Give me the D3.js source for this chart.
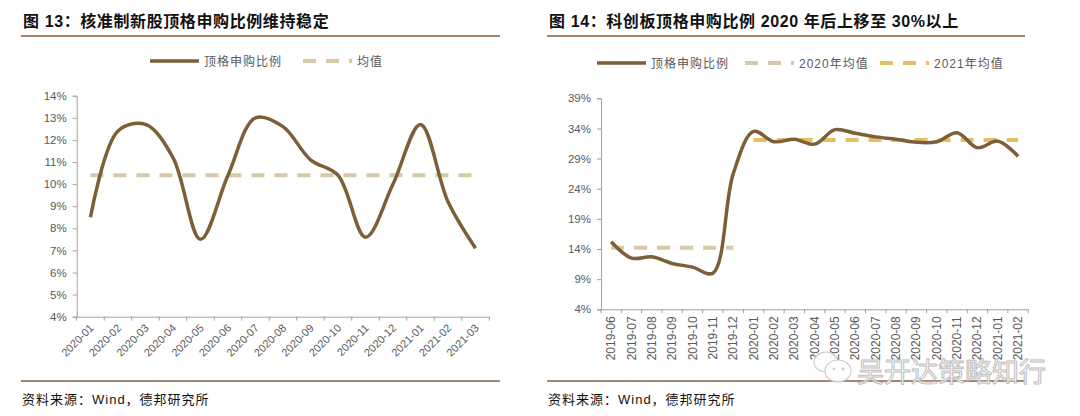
<!DOCTYPE html>
<html><head><meta charset="utf-8">
<script src="https://cdn.jsdelivr.net/npm/d3@7"></script>
<style>body{margin:0;background:#fff}svg{display:block}</style>
</head><body>
<svg id="c" width="1080" height="416"></svg>
<script>
// ---------- data ----------
const leftCategories = ["2020-01","2020-02","2020-03","2020-04","2020-05","2020-06","2020-07","2020-08","2020-09","2020-10","2020-11","2020-12","2021-01","2021-02","2021-03"];
const leftValues = [8.5,12.4,12.7,11.2,7.5,10.4,13.0,12.6,11.1,10.4,7.6,10.0,12.7,9.2,7.1];
const leftMean = 10.4;
const leftTicks = [4,5,6,7,8,9,10,11,12,13,14];

const rightCategories = ["2019-06","2019-07","2019-08","2019-09","2019-10","2019-11","2019-12","2020-01","2020-02","2020-03","2020-04","2020-05","2020-06","2020-07","2020-08","2020-09","2020-10","2020-11","2020-12","2021-01","2021-02"];
const rightValues = [15.2,12.5,12.7,11.6,11.0,10.0,26.5,33.5,31.8,32.2,31.4,33.8,33.2,32.6,32.2,31.7,31.8,33.3,30.8,31.9,29.4];
const mean2020Value = 14.2;
const mean2020Range = ["2019-06","2019-12"];
const mean2021Value = 32.1;
const mean2021Range = ["2020-01","2021-02"];
const rightTicks = [4,9,14,19,24,29,34,39];

const leftTitle = "图 13：核准制新股顶格申购比例维持稳定";
const rightTitle = "图 14：科创板顶格申购比例 2020 年后上移至 30%以上";
const sourceText = "资料来源：Wind，德邦研究所";
const legendMain = "顶格申购比例";
const legendLeftMean = "均值";
const legendMean2020 = "2020年均值";
const legendMean2021 = "2021年均值";
const watermark = "吴开达策略知行";

// ---------- styles ----------
const FONT = "'Liberation Sans', Arial, 'Noto Sans CJK SC', sans-serif";
const CJK = "'Noto Sans CJK SC', 'Liberation Sans', sans-serif";
const LINE = "#7d5f37";
const MEAN_L = "#d7c8a6";
const MEAN_Y = "#e6bf62";
const RULE = "#a88868";
const AXIS = "#a0a0a0";
const TXT = "#595959";

const svg = d3.select("#c");

function header(x0, x1, title) {
  svg.append("text").attr("x", x0 + 2).attr("y", 27)
    .attr("font-family", FONT).attr("font-weight", "bold").attr("font-size", 16)
    .attr("letter-spacing", 0.6)
    .attr("fill", "#111").text(title);
  svg.append("line").attr("x1", x0).attr("x2", x1).attr("y1", 36).attr("y2", 36)
    .attr("stroke", RULE).attr("stroke-width", 2);
  svg.append("line").attr("x1", x0).attr("x2", x1).attr("y1", 381).attr("y2", 381)
    .attr("stroke", RULE).attr("stroke-width", 2);
  svg.append("text").attr("x", x0 + 1).attr("y", 404)
    .attr("font-family", FONT).attr("font-size", 13).attr("letter-spacing", 1)
    .attr("fill", "#111").text(sourceText);
}

function legendItem(x, y, label, color, dashed) {
  svg.append("line").attr("x1", x).attr("x2", x + 49).attr("y1", y).attr("y2", y)
    .attr("stroke", color).attr("stroke-width", dashed ? 4 : 3.5)
    .attr("stroke-dasharray", dashed ? "13,10" : null);
  svg.append("text").attr("x", x + 54).attr("y", y + 4.5)
    .attr("font-family", FONT).attr("font-size", 12).attr("letter-spacing", 1)
    .attr("fill", TXT).text(label);
}

function yAxis(y, xPos, ticks) {
  const g = svg.append("g").attr("transform", `translate(${xPos},0)`)
    .call(d3.axisLeft(y).tickValues(ticks).tickSize(4).tickPadding(6).tickFormat(d => d + "%"));
  g.selectAll("path,line").attr("stroke", AXIS);
  g.selectAll("text").attr("font-family", FONT).attr("font-size", 11.5).attr("fill", TXT);
}

function xAxis(x, yPos, cats, rotate) {
  const g = svg.append("g").attr("transform", `translate(0,${yPos})`)
    .call(d3.axisBottom(x).tickSize(0).tickPadding(0));
  g.select("path.domain").attr("stroke", AXIS);
  g.selectAll(".tick line").remove();
  const bounds = cats.map(c => x(c)).concat([x(cats[cats.length - 1]) + x.step()]);
  g.selectAll("line.b").data(bounds).join("line").attr("class", "b")
    .attr("x1", d => d).attr("x2", d => d).attr("y1", 0).attr("y2", 4).attr("stroke", AXIS);
  const t = g.selectAll(".tick text").attr("font-family", FONT).attr("fill", TXT);
  if (rotate === 45) {
    t.attr("font-size", 11).attr("text-anchor", "end").attr("dy", 0)
      .attr("transform", "translate(4,12) rotate(-45)").attr("y", 0).attr("x", 0);
  } else {
    t.attr("font-size", 12).attr("text-anchor", "end").attr("dy", 0)
      .attr("transform", "translate(4,7) rotate(-90)").attr("y", 0).attr("x", 0);
  }
}

const cx = (s, c) => s(c) + s.bandwidth() / 2;

// ---------- left chart ----------
header(21, 500, leftTitle);
legendItem(150, 61, legendMain, LINE, false);
legendItem(303, 61, legendLeftMean, MEAN_L, true);

const xL = d3.scaleBand().domain(leftCategories).range([76.7, 489.3]);
const yL = d3.scaleLinear().domain([4, 14]).range([316.7, 95.7]);
yAxis(yL, 76.7, leftTicks);
xAxis(xL, 316.7, leftCategories, 45);

svg.append("line")
  .attr("x1", cx(xL, leftCategories[0])).attr("x2", cx(xL, leftCategories[leftCategories.length - 1]))
  .attr("y1", yL(leftMean)).attr("y2", yL(leftMean))
  .attr("stroke", MEAN_L).attr("stroke-width", 4).attr("stroke-dasharray", "13,10");

const lineL = d3.line().x((d, i) => cx(xL, leftCategories[i])).y(d => yL(d)).curve(d3.curveCatmullRom.alpha(0.5));
svg.append("path").datum(leftValues).attr("d", lineL).attr("fill", "none")
  .attr("stroke", LINE).attr("stroke-width", 3.5).attr("stroke-linejoin", "round");

// ---------- right chart ----------
header(547, 1025, rightTitle);
legendItem(597, 63, legendMain, LINE, false);
legendItem(745, 63, legendMean2020, MEAN_L, true);
legendItem(880, 63, legendMean2021, MEAN_Y, true);

const xR = d3.scaleBand().domain(rightCategories).range([601, 1028.3]);
const yR = d3.scaleLinear().domain([4, 39]).range([309.3, 98.3]);
yAxis(yR, 601, rightTicks);
xAxis(xR, 309.3, rightCategories, 90);

svg.append("line")
  .attr("x1", cx(xR, mean2020Range[0])).attr("x2", cx(xR, mean2020Range[1]))
  .attr("y1", yR(mean2020Value)).attr("y2", yR(mean2020Value))
  .attr("stroke", MEAN_L).attr("stroke-width", 4).attr("stroke-dasharray", "13,10");
svg.append("line")
  .attr("x1", cx(xR, mean2021Range[0])).attr("x2", cx(xR, mean2021Range[1]))
  .attr("y1", yR(mean2021Value)).attr("y2", yR(mean2021Value))
  .attr("stroke", MEAN_Y).attr("stroke-width", 4).attr("stroke-dasharray", "13,10");

const lineR = d3.line().x((d, i) => cx(xR, rightCategories[i])).y(d => yR(d)).curve(d3.curveCatmullRom.alpha(0.5));
svg.append("path").datum(rightValues).attr("d", lineR).attr("fill", "none")
  .attr("stroke", LINE).attr("stroke-width", 3.5).attr("stroke-linejoin", "round");

// ---------- watermark ----------
const wm = svg.append("g").attr("opacity", 0.9);
wm.append("ellipse").attr("cx", 826).attr("cy", 362).attr("rx", 12).attr("ry", 10)
  .attr("fill", "#fff").attr("stroke", "#c8c8c8").attr("stroke-width", 1.2);
wm.append("ellipse").attr("cx", 838).attr("cy", 371).attr("rx", 13).attr("ry", 11)
  .attr("fill", "#fff").attr("stroke", "#c8c8c8").attr("stroke-width", 1.2);
wm.append("circle").attr("cx", 834).attr("cy", 369).attr("r", 1.4).attr("fill", "#c8c8c8");
wm.append("circle").attr("cx", 843).attr("cy", 369).attr("r", 1.4).attr("fill", "#c8c8c8");
wm.append("text").attr("x", 857).attr("y", 382)
  .attr("font-family", CJK).attr("font-size", 27).attr("fill", "#fff")
  .attr("stroke", "#b8b8b8").attr("stroke-width", 1).text(watermark);
</script>
</body></html>
